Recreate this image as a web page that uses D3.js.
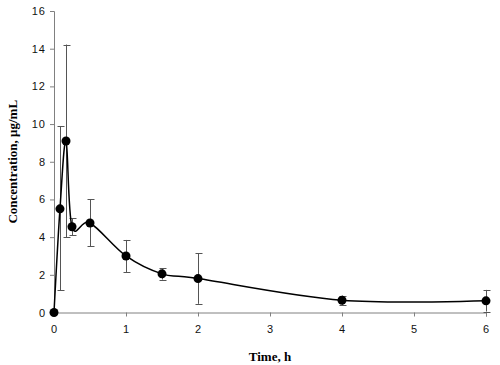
<!DOCTYPE html>
<html>
<head>
<meta charset="utf-8">
<script src="https://cdn.jsdelivr.net/npm/d3@7"></script>
<style>
  body { margin: 0; background: #fff; }
  svg { display: block; }
  .tick text { font-family: Arial, "Liberation Sans", sans-serif; font-size: 11px; fill: #111; letter-spacing: 1px; }
  .lab { font-family: "Times New Roman", "Liberation Serif", serif; font-weight: bold; font-size: 13px; fill: #000; }
</style>
</head>
<body>
<div id="chart"></div>
<script>
// time (h), mean concentration (ug/mL), error bar ends
const times = [0, 0.083, 0.167, 0.25, 0.5, 1, 1.5, 2, 4, 6];
const conc  = [0, 5.5, 9.1, 4.55, 4.75, 3.0, 2.05, 1.8, 0.65, 0.62];
const upper = [0, 9.88, 14.22, 5.0, 6.0, 3.85, 2.35, 3.15, 0.9, 1.2];
const lower = [0, 1.17, 4.0, 4.1, 3.52, 2.15, 1.75, 0.46, 0.4, 0.05];
const xTicks = [0, 1, 2, 3, 4, 5, 6];
const yTicks = [0, 2, 4, 6, 8, 10, 12, 14, 16];

const width = 500, height = 365;
const margin = {top: 11, right: 14, bottom: 52, left: 54};

const svg = d3.select("#chart").append("svg")
    .attr("width", width)
    .attr("height", height);

const x = d3.scaleLinear().domain([0, 6]).range([margin.left, width - margin.right]);
const y = d3.scaleLinear().domain([0, 16]).range([height - margin.bottom - 0.5, margin.top]);

// axes
const xAxis = svg.append("g")
    .attr("transform", `translate(0,${y(0)})`)
    .call(d3.axisBottom(x).tickValues(xTicks).tickSize(4).tickPadding(9).tickFormat(d3.format("d")));
const yAxis = svg.append("g")
    .attr("transform", `translate(${x(0)},0)`)
    .call(d3.axisLeft(y).tickValues(yTicks).tickSize(4).tickPadding(4).tickFormat(d3.format("d")));
[xAxis, yAxis].forEach(a => {
    a.select(".domain").attr("stroke", "#808080");
    a.selectAll(".tick line").attr("stroke", "#808080");
});

const data = times.map((t, i) => ({t: t, c: conc[i], hi: upper[i], lo: lower[i]}));

// error bars
const eb = svg.append("g").attr("stroke", "#555").attr("stroke-width", 1);
data.filter(d => d.hi > d.lo).forEach(d => {
    const px = Math.round(x(d.t)) + 0.5;
    eb.append("line").attr("x1", px).attr("x2", px).attr("y1", y(d.hi)).attr("y2", y(d.lo));
    eb.append("line").attr("x1", px - 3).attr("x2", px + 4).attr("y1", Math.round(y(d.hi)) + 0.5).attr("y2", Math.round(y(d.hi)) + 0.5);
    eb.append("line").attr("x1", px - 3).attr("x2", px + 4).attr("y1", Math.round(y(d.lo)) + 0.5).attr("y2", Math.round(y(d.lo)) + 0.5);
});

// smoothed line
const line = d3.line()
    .x(d => x(d.t))
    .y(d => y(d.c))
    .curve(d3.curveCatmullRom.alpha(0));
svg.append("path")
    .datum(data)
    .attr("d", line)
    .attr("fill", "none")
    .attr("stroke", "#000")
    .attr("stroke-width", 1.5);

// markers
svg.append("g").selectAll("circle")
    .data(data)
    .enter()
    .append("circle")
    .attr("cx", d => x(d.t))
    .attr("cy", d => y(d.c))
    .attr("r", 4.5)
    .attr("fill", "#000");

// labels
svg.append("text")
    .attr("class", "lab")
    .attr("x", (x(0) + x(6)) / 2)
    .attr("y", 361)
    .attr("text-anchor", "middle")
    .text("Time, h");
svg.append("text")
    .attr("class", "lab")
    .attr("transform", `translate(17,${(y(0) + y(16)) / 2}) rotate(-90)`)
    .attr("text-anchor", "middle")
    .text("Concentration, μg/mL");
</script>
</body>
</html>
